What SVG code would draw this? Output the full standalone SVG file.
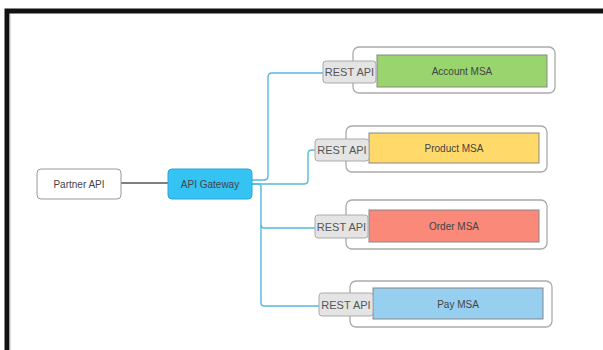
<svg xmlns="http://www.w3.org/2000/svg" width="603" height="350" viewBox="0 0 603 350">
<style>
text{font-family:"Liberation Sans",Arial,sans-serif;font-size:10px;fill:#444;text-anchor:middle;dominant-baseline:central}
.rest{font-size:11px;fill:#555}
.outer{fill:#fff;stroke:#aaa;stroke-width:1.3}
.restbox{fill:#e4e4e4;stroke:#aaa;stroke-width:1}
.msa{stroke:#888;stroke-width:1}
.conn{fill:none;stroke:#52b9da;stroke-width:1.4}
</style>
<rect x="0" y="0" width="603" height="350" fill="#fff"/>
<path d="M7 350 V11 H603" fill="none" stroke="#111" stroke-width="5"/>
<line x1="10" y1="14" x2="10" y2="350" stroke="#bbb" stroke-width="1"/>
<g id="connectors">
<line x1="121" y1="183" x2="168" y2="183" stroke="#555" stroke-width="1.3"/>
<path class="conn" d="M252 180 H264 Q268 180 268 176 V77 Q268 73 272 73 H323"/>
<path class="conn" d="M252 184 H304 Q308 184 308 180 V154 Q308 150 312 150 H315"/>
<path class="conn" d="M252 184 H258 Q261 184 261 187 V303 Q261 306 264 306 H319"/>
<path class="conn" d="M261 225 Q261 228 264 228 H315"/>
</g>
<g id="partner-api">
<rect x="37" y="169" width="84" height="30" rx="4" fill="#fff" stroke="#999" stroke-width="1"/>
<text x="79" y="184">Partner API</text>
</g>
<g id="api-gateway">
<rect x="168" y="169" width="84" height="30" rx="4" fill="#35c3f3" stroke="#2ba6d6" stroke-width="1"/>
<text x="210" y="184" fill="#333">API Gateway</text>
</g>
<g id="account-msa">
<rect class="outer" x="353" y="47" width="202" height="46" rx="6"/>
<rect class="msa" x="377" y="55" width="170" height="32" fill="#99d46e"/>
<text x="462" y="71">Account MSA</text>
<rect class="restbox" x="323" y="61" width="53" height="22" rx="3"/>
<text class="rest" x="349.5" y="72">REST API</text>
</g>
<g id="product-msa">
<rect class="outer" x="346" y="126" width="201" height="46" rx="6"/>
<rect class="msa" x="369" y="133" width="170" height="30" fill="#ffda6a"/>
<text x="454" y="148">Product MSA</text>
<rect class="restbox" x="315" y="139" width="54" height="22" rx="3"/>
<text class="rest" x="342" y="150">REST API</text>
</g>
<g id="order-msa">
<rect class="outer" x="346" y="200" width="201" height="49" rx="6"/>
<rect class="msa" x="369" y="210" width="170" height="32" fill="#fa897a"/>
<text x="454" y="226">Order MSA</text>
<rect class="restbox" x="315" y="215" width="53" height="23" rx="3"/>
<text class="rest" x="341.5" y="226.5">REST API</text>
</g>
<g id="pay-msa">
<rect class="outer" x="350" y="281" width="202" height="46" rx="6"/>
<rect class="msa" x="373" y="288" width="170" height="31" fill="#96cfef"/>
<text x="458" y="304">Pay MSA</text>
<rect class="restbox" x="319" y="293" width="54" height="23" rx="3"/>
<text class="rest" x="346" y="304.5">REST API</text>
</g>
</svg>
